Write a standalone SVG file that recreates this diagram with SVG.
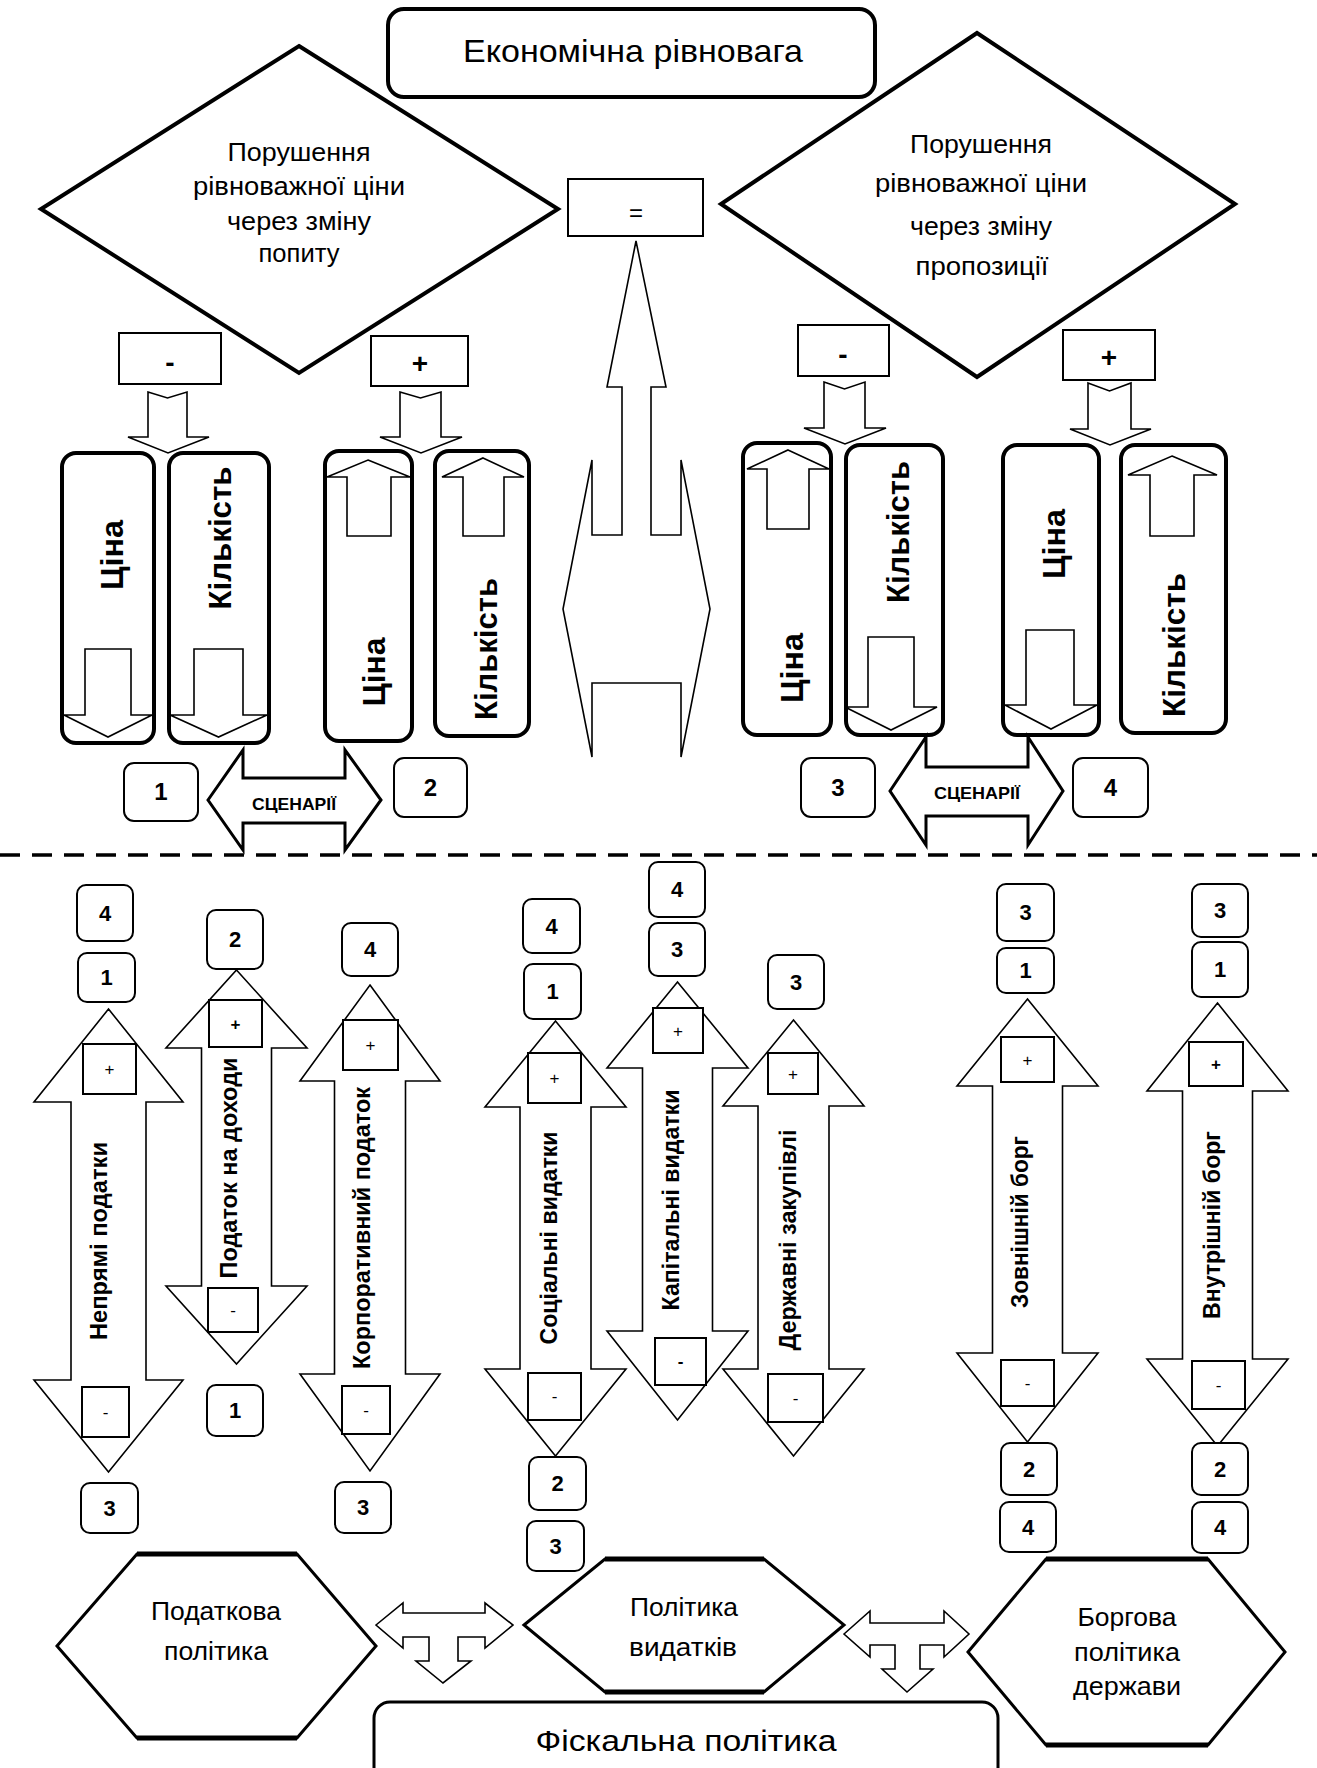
<svg xmlns="http://www.w3.org/2000/svg" width="1317" height="1768" viewBox="0 0 1317 1768">
<style>
text{font-family:"Liberation Sans",Arial,sans-serif;fill:#000}
.b{font-weight:bold}
.c{text-anchor:middle}
.r{font-size:25px}
.vb{font-size:32px;font-weight:bold;text-anchor:middle}
.vl{font-size:23px;font-weight:bold;text-anchor:middle}
.n{font-size:22px;font-weight:bold;text-anchor:middle}
.nt{font-size:24px;font-weight:bold;text-anchor:middle}
.pm{font-size:17px;text-anchor:middle}
.thick{fill:#fff;stroke:#000;stroke-width:4}
.mid{fill:#fff;stroke:#000;stroke-width:3}
.thin{fill:#fff;stroke:#000;stroke-width:1.6}
.box{fill:#fff;stroke:#000;stroke-width:2}
.hexedge{stroke:#000;stroke-width:5;fill:none}
</style>
<rect x="0" y="0" width="1317" height="1768" fill="#fff"/>

<g id="title">
<rect class="thick" x="388" y="9" width="487" height="88" rx="16"/>
<text class="c" x="633" y="62" font-size="32" textLength="340" lengthAdjust="spacingAndGlyphs">Економічна рівновага</text>
</g>

<g id="demand-diamond">
<polygon class="thick" points="299,46 558,209 299,373 41,209"/>
<text class="c r" x="299" y="161" textLength="143" lengthAdjust="spacingAndGlyphs">Порушення</text>
<text class="c r" x="299" y="195" textLength="212" lengthAdjust="spacingAndGlyphs">рівноважної ціни</text>
<text class="c r" x="299" y="230" textLength="144" lengthAdjust="spacingAndGlyphs">через зміну</text>
<text class="c r" x="299" y="262" textLength="81" lengthAdjust="spacingAndGlyphs">попиту</text>
</g>

<g id="supply-diamond">
<polygon class="thick" points="977,33 1235,204 977,377 721,204"/>
<text class="c r" x="981" y="153" textLength="142" lengthAdjust="spacingAndGlyphs">Порушення</text>
<text class="c r" x="981" y="192" textLength="212" lengthAdjust="spacingAndGlyphs">рівноважної ціни</text>
<text class="c r" x="981" y="235" textLength="142" lengthAdjust="spacingAndGlyphs">через зміну</text>
<text class="c r" x="982" y="275" textLength="133" lengthAdjust="spacingAndGlyphs">пропозиції</text>
</g>

<g id="equal-box">
<rect class="box" x="568" y="179" width="135" height="57"/>
<text class="c" x="636" y="221" font-size="24">=</text>
</g>

<g id="sign-boxes-top">
<rect class="box" x="119" y="333" width="102" height="51"/>
<text class="c b" x="170" y="372" font-size="28">-</text>
<rect class="box" x="371" y="336" width="97" height="50"/>
<text class="c b" x="420" y="373" font-size="28">+</text>
<rect class="box" x="798" y="325" width="91" height="51"/>
<text class="c b" x="843" y="364" font-size="28">-</text>
<rect class="box" x="1063" y="330" width="92" height="50"/>
<text class="c b" x="1109" y="367" font-size="28">+</text>
</g>

<g id="scenario-boxes">
<g id="box-price-1">
<rect class="thick" x="62" y="453" width="92" height="290" rx="14"/>
<text class="vb" transform="translate(123,555) rotate(-90)" textLength="70" lengthAdjust="spacingAndGlyphs">Ціна</text>
</g>
<g id="box-qty-1">
<rect class="thick" x="169" y="453" width="100" height="290" rx="14"/>
<text class="vb" transform="translate(231,538) rotate(-90)" textLength="143" lengthAdjust="spacingAndGlyphs">Кількість</text>
</g>
<g id="box-price-2">
<rect class="thick" x="325" y="451" width="87" height="290" rx="14"/>
<text class="vb" transform="translate(385,672) rotate(-90)" textLength="69" lengthAdjust="spacingAndGlyphs">Ціна</text>
</g>
<g id="box-qty-2">
<rect class="thick" x="435" y="451" width="94" height="285" rx="14"/>
<text class="vb" transform="translate(497,649) rotate(-90)" textLength="142" lengthAdjust="spacingAndGlyphs">Кількість</text>
</g>
<g id="box-price-3">
<rect class="thick" x="743" y="443" width="88" height="292" rx="14"/>
<text class="vb" transform="translate(803,668) rotate(-90)" textLength="70" lengthAdjust="spacingAndGlyphs">Ціна</text>
</g>
<g id="box-qty-3">
<rect class="thick" x="846" y="445" width="97" height="290" rx="14"/>
<text class="vb" transform="translate(909,532) rotate(-90)" textLength="142" lengthAdjust="spacingAndGlyphs">Кількість</text>
</g>
<g id="box-price-4">
<rect class="thick" x="1003" y="445" width="96" height="290" rx="14"/>
<text class="vb" transform="translate(1065,544) rotate(-90)" textLength="70" lengthAdjust="spacingAndGlyphs">Ціна</text>
</g>
<g id="box-qty-4">
<rect class="thick" x="1121" y="445" width="105" height="288" rx="14"/>
<text class="vb" transform="translate(1185,645) rotate(-90)" textLength="144" lengthAdjust="spacingAndGlyphs">Кількість</text>
</g>
</g>

<g id="scenario-numbers">
<rect class="box" x="124" y="763" width="74" height="58" rx="10"/>
<text class="nt" x="161" y="800">1</text>
<rect class="box" x="394" y="758" width="73" height="59" rx="10"/>
<text class="nt" x="430.5" y="796">2</text>
<rect class="box" x="801" y="758" width="74" height="59" rx="10"/>
<text class="nt" x="838" y="796">3</text>
<rect class="box" x="1073" y="758" width="75" height="59" rx="10"/>
<text class="nt" x="1110.5" y="796">4</text>
</g>

<g id="connectors">
<path class="thin" d="M636,241 L666,387 L651,387 L651,535 L681,535 L681,460 L710,609 L681,757 L681,683 L592,683 L592,757 L563,609 L592,460 L592,535 L622,535 L622,387 L607,387 Z"/>
<path class="thin" d="M148,392 L167.5,398 L187,392 L187,437 L209,437 L168,453 L128,437 L148,437 Z"/>
<path class="thin" d="M400,392 L420.5,398 L441,392 L441,437 L462,437 L421,453 L380,437 L400,437 Z"/>
<path class="thin" d="M824,382 L844.5,389 L865,382 L865,428 L886,428 L845,444 L804,428 L824,428 Z"/>
<path class="thin" d="M1088,383 L1109.5,391 L1131,383 L1131,429 L1151,429 L1110,445 L1070,429 L1088,429 Z"/>
<path class="thin" d="M85,649 L131,649 L131,715 L152,715 L108,737 L64,715 L85,715 Z"/>
<path class="thin" d="M194,649 L243,649 L243,715 L267,715 L218.5,737 L170,715 L194,715 Z"/>
<path class="thin" d="M368,460 L410,477 L391,477 L391,536 L347,536 L347,477 L327,477 Z"/>
<path class="thin" d="M483,458 L524,477 L504,477 L504,536 L463,536 L463,477 L442,477 Z"/>
<path class="thin" d="M788,450 L829,469 L809,469 L809,529 L767,529 L767,469 L747,469 Z"/>
<path class="thin" d="M868,637 L914,637 L914,707 L937,707 L891,730 L845,707 L868,707 Z"/>
<path class="thin" d="M1026,630 L1074,630 L1074,705 L1097,705 L1051,729 L1005,705 L1026,705 Z"/>
<path class="thin" d="M1172,456 L1217,475 L1194,475 L1194,536 L1150,536 L1150,475 L1128,475 Z"/>
<path class="mid" d="M208,800 L243,750 L243,778 L345,778 L345,750 L381,800 L345,850 L345,823 L243,823 L243,850 Z"/>
<path class="mid" d="M890,791 L926,737 L926,767 L1028,767 L1028,737 L1063,791 L1028,845 L1028,816 L926,816 L926,845 Z"/>
<path class="thin" d="M108.5,1009 L183,1102 L146,1102 L146,1380 L183,1380 L108.5,1472 L34,1380 L71,1380 L71,1102 L34,1102 Z"/>
<path class="thin" d="M236.5,970 L307,1048 L271.5,1048 L271.5,1286 L307,1286 L236.5,1364 L166,1286 L201.5,1286 L201.5,1048 L166,1048 Z"/>
<path class="thin" d="M370,985 L440,1081 L405.5,1081 L405.5,1374 L440,1374 L370,1471 L300,1374 L334.5,1374 L334.5,1081 L300,1081 Z"/>
<path class="thin" d="M555.5,1021 L626,1107 L591,1107 L591,1369 L626,1369 L555.5,1456 L485,1369 L520,1369 L520,1107 L485,1107 Z"/>
<path class="thin" d="M677.5,982 L748,1068 L712.5,1068 L712.5,1331 L748,1331 L677.5,1420 L607,1331 L642.5,1331 L642.5,1068 L607,1068 Z"/>
<path class="thin" d="M793.5,1020 L864,1106 L829,1106 L829,1369 L864,1369 L793.5,1456 L723,1369 L758,1369 L758,1106 L723,1106 Z"/>
<path class="thin" d="M1027.5,999 L1098,1086 L1062.5,1086 L1062.5,1353 L1098,1353 L1027.5,1442 L957,1353 L992.5,1353 L992.5,1086 L957,1086 Z"/>
<path class="thin" d="M1217.5,1003 L1288,1091 L1252.5,1091 L1252.5,1359 L1288,1359 L1217.5,1446 L1147,1359 L1182.5,1359 L1182.5,1091 L1147,1091 Z"/>
<path class="thin" d="M376,1625 L403,1603 L403,1613 L485,1613 L485,1603 L513,1625 L485,1648 L485,1637 L458,1637 L458,1661 L471,1661 L443,1683 L416,1661 L429,1661 L429,1637 L403,1637 L403,1648 Z"/>
<path class="thin" d="M844,1634 L870,1611 L870,1623 L944,1623 L944,1611 L969,1634 L944,1657 L944,1645 L920,1645 L920,1669 L933,1669 L907,1692 L882,1669 L895,1669 L895,1645 L870,1645 L870,1657 Z"/>
</g>

<g id="scenario-labels">
<text class="b c" x="294" y="810" font-size="17" textLength="84" lengthAdjust="spacingAndGlyphs">СЦЕНАРІЇ</text>
<text class="b c" x="977" y="799" font-size="17" textLength="86" lengthAdjust="spacingAndGlyphs">СЦЕНАРІЇ</text>
</g>

<line x1="0" y1="855" x2="1317" y2="855" stroke="#000" stroke-width="3.5" stroke-dasharray="20 12"/>

<g id="lever-indirect-tax">
<rect class="box" x="83" y="1044" width="53" height="50"/><text class="pm" x="109.5" y="1075">+</text>
<rect class="box" x="82" y="1387" width="47" height="50"/><text class="pm" x="105.5" y="1418">-</text>
<text class="vl" transform="translate(107,1241) rotate(-90)" textLength="198" lengthAdjust="spacingAndGlyphs">Непрямі податки</text>
<rect class="box" x="77" y="885" width="56" height="56" rx="9"/><text class="n" x="105" y="921">4</text>
<rect class="box" x="78" y="953" width="57" height="49" rx="9"/><text class="n" x="106.5" y="985">1</text>
<rect class="box" x="81" y="1483" width="57" height="50" rx="9"/><text class="n" x="109.5" y="1516">3</text>
</g>

<g id="lever-income-tax">
<rect class="box" x="209" y="1000" width="53" height="47"/><text class="pm b" x="235.5" y="1030">+</text>
<rect class="box" x="208" y="1288" width="50" height="44"/><text class="pm" x="233" y="1316">-</text>
<text class="vl" transform="translate(237,1168) rotate(-90)" textLength="221" lengthAdjust="spacingAndGlyphs">Податок на доходи</text>
<rect class="box" x="207" y="910" width="56" height="59" rx="9"/><text class="n" x="235" y="947">2</text>
<rect class="box" x="207" y="1385" width="56" height="51" rx="9"/><text class="n" x="235" y="1418">1</text>
</g>

<g id="lever-corporate-tax">
<rect class="box" x="343" y="1020" width="55" height="50"/><text class="pm" x="370.5" y="1051">+</text>
<rect class="box" x="342" y="1386" width="48" height="48"/><text class="pm" x="366" y="1416">-</text>
<text class="vl" transform="translate(370,1228) rotate(-90)" textLength="282" lengthAdjust="spacingAndGlyphs">Корпоративний податок</text>
<rect class="box" x="342" y="923" width="56" height="53" rx="9"/><text class="n" x="370" y="957">4</text>
<rect class="box" x="335" y="1482" width="56" height="51" rx="9"/><text class="n" x="363" y="1515">3</text>
</g>

<g id="lever-social-spending">
<rect class="box" x="528" y="1053" width="53" height="50"/><text class="pm" x="554.5" y="1084">+</text>
<rect class="box" x="528" y="1373" width="53" height="47"/><text class="pm" x="554.5" y="1402">-</text>
<text class="vl" transform="translate(557,1238) rotate(-90)" textLength="213" lengthAdjust="spacingAndGlyphs">Соціальні видатки</text>
<rect class="box" x="523" y="899" width="57" height="54" rx="9"/><text class="n" x="551.5" y="934">4</text>
<rect class="box" x="524" y="964" width="57" height="55" rx="9"/><text class="n" x="552.5" y="999">1</text>
<rect class="box" x="529" y="1457" width="57" height="53" rx="9"/><text class="n" x="557.5" y="1491">2</text>
<rect class="box" x="527" y="1521" width="57" height="50" rx="9"/><text class="n" x="555.5" y="1554">3</text>
</g>

<g id="lever-capital-spending">
<rect class="box" x="653" y="1008" width="50" height="45"/><text class="pm" x="678" y="1037">+</text>
<rect class="box" x="655" y="1338" width="51" height="47"/><text class="pm b" x="680.5" y="1367">-</text>
<text class="vl" transform="translate(679,1200) rotate(-90)" textLength="221" lengthAdjust="spacingAndGlyphs">Капітальні видатки</text>
<rect class="box" x="649" y="862" width="56" height="55" rx="9"/><text class="n" x="677" y="897">4</text>
<rect class="box" x="649" y="923" width="56" height="53" rx="9"/><text class="n" x="677" y="957">3</text>
</g>

<g id="lever-public-procurement">
<rect class="box" x="768" y="1053" width="50" height="41"/><text class="pm" x="793" y="1080">+</text>
<rect class="box" x="768" y="1374" width="55" height="48"/><text class="pm" x="795.5" y="1404">-</text>
<text class="vl" transform="translate(796,1240) rotate(-90)" textLength="221" lengthAdjust="spacingAndGlyphs">Державні закупівлі</text>
<rect class="box" x="768" y="955" width="56" height="54" rx="9"/><text class="n" x="796" y="990">3</text>
</g>

<g id="lever-external-debt">
<rect class="box" x="1001" y="1037" width="53" height="45"/><text class="pm" x="1027.5" y="1066">+</text>
<rect class="box" x="1001" y="1360" width="53" height="46"/><text class="pm" x="1027.5" y="1389">-</text>
<text class="vl" transform="translate(1028,1222) rotate(-90)" textLength="172" lengthAdjust="spacingAndGlyphs">Зовнішній борг</text>
<rect class="box" x="997" y="884" width="57" height="57" rx="9"/><text class="n" x="1025.5" y="920">3</text>
<rect class="box" x="997" y="948" width="57" height="45" rx="9"/><text class="n" x="1025.5" y="978">1</text>
<rect class="box" x="1001" y="1443" width="56" height="52" rx="9"/><text class="n" x="1029" y="1477">2</text>
<rect class="box" x="1000" y="1502" width="56" height="50" rx="9"/><text class="n" x="1028" y="1535">4</text>
</g>

<g id="lever-internal-debt">
<rect class="box" x="1189" y="1042" width="54" height="44"/><text class="pm b" x="1216" y="1070">+</text>
<rect class="box" x="1192" y="1361" width="53" height="48"/><text class="pm" x="1218.5" y="1391">-</text>
<text class="vl" transform="translate(1220,1225) rotate(-90)" textLength="188" lengthAdjust="spacingAndGlyphs">Внутрішній борг</text>
<rect class="box" x="1192" y="884" width="56" height="53" rx="9"/><text class="n" x="1220" y="918">3</text>
<rect class="box" x="1192" y="942" width="56" height="55" rx="9"/><text class="n" x="1220" y="977">1</text>
<rect class="box" x="1192" y="1443" width="56" height="52" rx="9"/><text class="n" x="1220" y="1477">2</text>
<rect class="box" x="1192" y="1502" width="56" height="51" rx="9"/><text class="n" x="1220" y="1535">4</text>
</g>

<g id="tax-policy">
<polygon class="mid" points="57,1646 137,1554 297,1554 376,1646 297,1738 137,1738"/>
<line class="hexedge" x1="137" y1="1554" x2="297" y2="1554"/>
<line class="hexedge" x1="137" y1="1738" x2="297" y2="1738"/>
<text class="c r" x="216" y="1620" textLength="130" lengthAdjust="spacingAndGlyphs">Податкова</text>
<text class="c r" x="216" y="1660" textLength="104" lengthAdjust="spacingAndGlyphs">політика</text>
</g>

<g id="spending-policy">
<polygon class="mid" points="524,1625 605,1559 764,1559 844,1625 764,1692 605,1692"/>
<line class="hexedge" x1="605" y1="1559" x2="764" y2="1559"/>
<line class="hexedge" x1="605" y1="1692" x2="764" y2="1692"/>
<text class="c r" x="684" y="1616" textLength="108" lengthAdjust="spacingAndGlyphs">Політика</text>
<text class="c r" x="683" y="1656" textLength="108" lengthAdjust="spacingAndGlyphs">видатків</text>
</g>

<g id="debt-policy">
<polygon class="mid" points="968,1652 1046,1559 1208,1559 1285,1652 1208,1745 1046,1745"/>
<line class="hexedge" x1="1046" y1="1559" x2="1208" y2="1559"/>
<line class="hexedge" x1="1046" y1="1745" x2="1208" y2="1745"/>
<text class="c r" x="1127" y="1626" textLength="99" lengthAdjust="spacingAndGlyphs">Боргова</text>
<text class="c r" x="1127" y="1661" textLength="106" lengthAdjust="spacingAndGlyphs">політика</text>
<text class="c r" x="1127" y="1695" textLength="108" lengthAdjust="spacingAndGlyphs">держави</text>
</g>

<g id="fiscal-policy">
<rect class="mid" x="374" y="1702" width="624" height="110" rx="16"/>
<text class="c" x="686" y="1751" font-size="29" textLength="301" lengthAdjust="spacingAndGlyphs">Фіскальна політика</text>
</g>
</svg>
